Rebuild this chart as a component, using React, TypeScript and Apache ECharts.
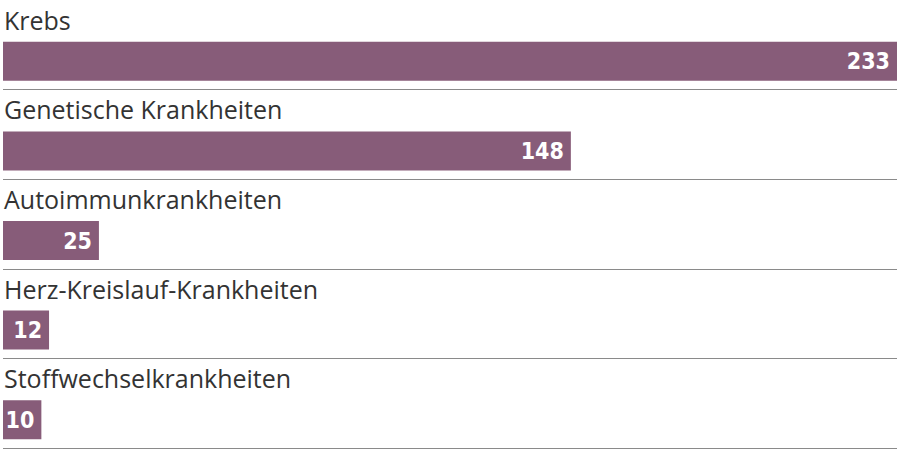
import React, { useEffect, useRef } from "react";
import * as echarts from "echarts";

const categories = [
  "Krebs",
  "Genetische Krankheiten",
  "Autoimmunkrankheiten",
  "Herz-Kreislauf-Krankheiten",
  "Stoffwechselkrankheiten",
];
const values = [233, 148, 25, 12, 10];

export default function App() {
  const ref = useRef<HTMLDivElement>(null);
  useEffect(() => {
    if (!ref.current) return;
    const chart = echarts.init(ref.current, null, { renderer: "svg" });
    chart.setOption({
      animation: false,
      grid: { left: 3, right: 3, top: -2, height: 450 },
      xAxis: {
        type: "value",
        min: 0,
        max: 233,
        show: false,
      },
      yAxis: {
        type: "category",
        data: categories,
        inverse: true,
        axisLine: { show: false },
        axisTick: { show: false },
        axisLabel: { show: false },
        splitLine: {
          show: true,
          interval: (index: number) => index > 0,
          lineStyle: { color: "#8a8a8a", width: 1 },
        },
      },
      series: [
        {
          name: "labels",
          type: "bar",
          data: values,
          barWidth: 33,
          barGap: "0%",
          silent: true,
          itemStyle: { color: "rgba(0,0,0,0)" },
          label: {
            show: true,
            position: [1, 11],
            verticalAlign: "middle",
            align: "left",
            formatter: (p: any) => categories[p.dataIndex],
            fontFamily: "'Open Sans', sans-serif",
            fontSize: 25,
            color: "#333333",
          },
        },
        {
          name: "values",
          type: "bar",
          data: values,
          barWidth: 39,
          itemStyle: { color: "#875c79" },
          label: {
            show: true,
            position: "insideRight",
            distance: 7,
            fontFamily: "'DejaVu Sans Condensed', sans-serif",
            fontWeight: "bold",
            fontSize: 23,
            color: "#ffffff",
          },
        },
      ],
    });
    return () => chart.dispose();
  }, []);
  return (
    <div
      ref={ref}
      style={{ width: 900, height: 459, position: "absolute", left: 0, top: 0 }}
    />
  );
}
